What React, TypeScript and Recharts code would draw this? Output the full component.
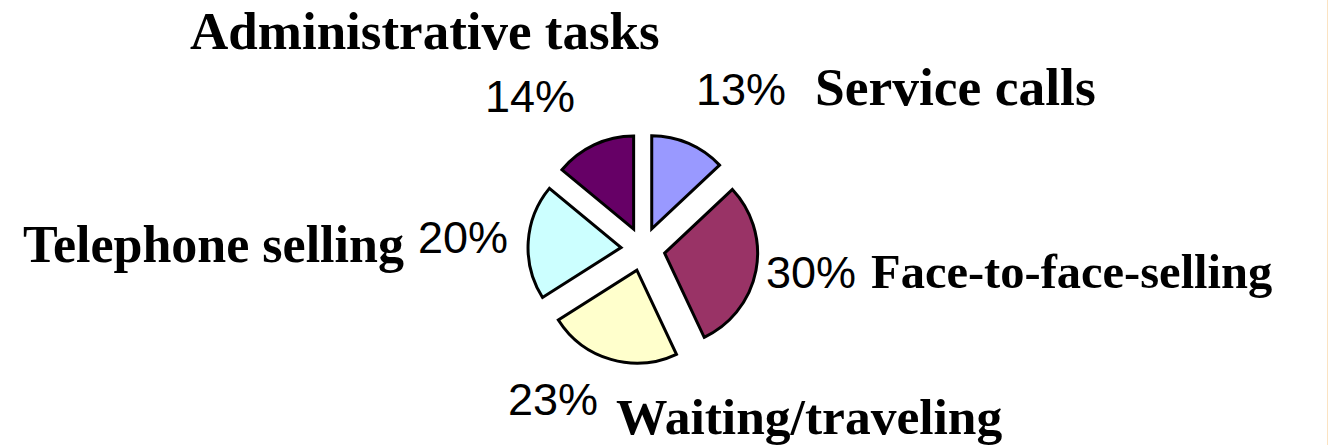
import React from "react";
import { PieChart, Pie, Cell } from "recharts";

// activity shares (percent of a salesperson's time)
const categories = [
  "Service calls",
  "Face-to-face-selling",
  "Waiting/traveling",
  "Telephone selling",
  "Administrative tasks",
];
const shares = [13, 30, 23, 20, 14];
const sliceColors = ["#9999FF", "#993366", "#FFFFCC", "#CCFFFF", "#660066"];

const data = categories.map((name, i) => ({ name, value: shares[i] }));

const WIDTH = 1328;
const HEIGHT = 445;
const CX = 638;
const CY = 244;
const RADIUS = 93;
const EXPLODE = 22;

// label placement relative to pie centre: [pctX, pctY, nameX, nameY]
const labelOffsets: [number, number, number, number][] = [
  [58, -139, 177, -139],
  [128, 44, 233, 44],
  [-130, 171, -22, 190],
  [-220, 9, -615, 18],
  [-153, -132, -448, -195],
];
const nameSizes = [53.5, 48.5, 51.5, 52, 53];

const total = shares.reduce((s, v) => s + v, 0);

function centreFor(i: number) {
  const before = shares.slice(0, i).reduce((s, v) => s + v, 0);
  const theta = ((before + shares[i] / 2) / total) * 2 * Math.PI;
  return {
    x: CX + EXPLODE * Math.sin(theta),
    y: CY - EXPLODE * Math.cos(theta),
  };
}

function makeLabel(slice: number) {
  return (props: any) => {
    if (props.index !== slice) return null;
    const [px, py, nx, ny] = labelOffsets[slice];
    const pct = Math.round((props.percent ?? props.value / total) * 100);
    return (
      <g>
        <text
          x={CX + px}
          y={CY + py}
          fill="#000"
          fontFamily="'Liberation Sans', Arial, sans-serif"
          fontSize={45}
          textAnchor="start"
        >
          {pct}%
        </text>
        <text
          x={CX + nx}
          y={CY + ny}
          fill="#000"
          fontFamily="'Liberation Serif', 'Times New Roman', serif"
          fontWeight="bold"
          fontSize={nameSizes[slice]}
          textAnchor="start"
        >
          {props.name}
        </text>
      </g>
    );
  };
}

export default function App() {
  return (
    <div
      style={{
        position: "absolute",
        left: 0,
        top: 0,
        width: WIDTH - 1,
        height: HEIGHT,
        borderRight: "1px solid #FBE3C2",
        background: "#fff",
      }}
    >
      <PieChart width={WIDTH} height={HEIGHT}>
        {data.map((_, i) => {
          const c = centreFor(i);
          return (
            <Pie
              key={`slice-${i}`}
              data={data}
              dataKey="value"
              nameKey="name"
              cx={c.x}
              cy={c.y}
              outerRadius={RADIUS}
              startAngle={90}
              endAngle={-270}
              isAnimationActive={false}
              labelLine={false}
              label={makeLabel(i)}
            >
              {data.map((entry, j) => (
                <Cell
                  key={`cell-${j}`}
                  fill={j === i ? sliceColors[j] : "none"}
                  stroke={j === i ? "#000" : "none"}
                  strokeWidth={3}
                />
              ))}
            </Pie>
          );
        })}
      </PieChart>
    </div>
  );
}
